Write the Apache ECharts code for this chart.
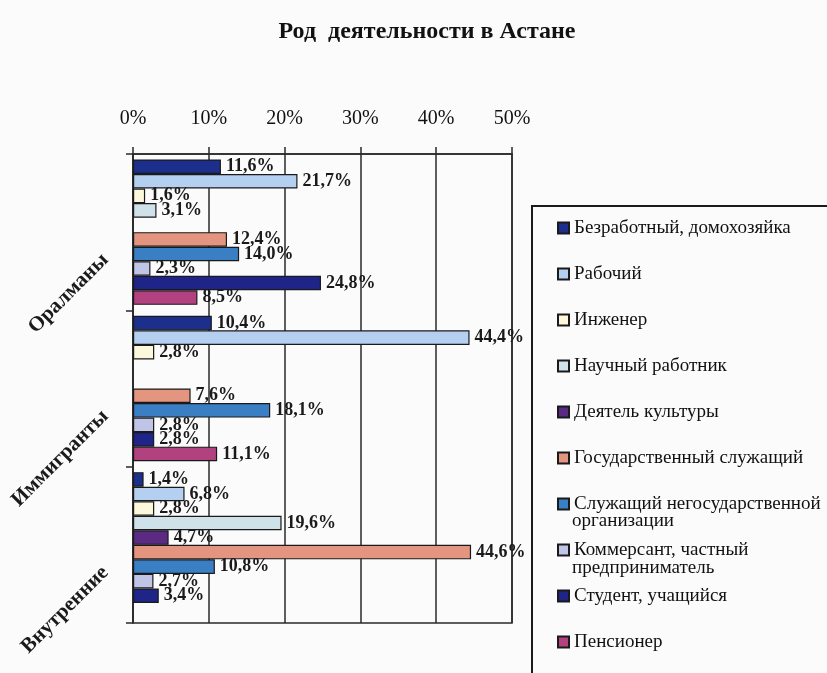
<!DOCTYPE html>
<html>
<head>
<meta charset="utf-8">
<script src="https://cdn.jsdelivr.net/npm/echarts@6/dist/echarts.min.js"></script>
<style>
  html, body { margin: 0; padding: 0; background: #fbfbfb; }
  #main { width: 827px; height: 673px; }
</style>
</head>
<body>
<div id="main"></div>
<script>
const categories = ["Оралманы", "Иммигранты", "Внутренние"];
const seriesNames = [
  "Безработный, домохозяйка",
  "Рабочий",
  "Инженер",
  "Научный работник",
  "Деятель культуры",
  "Государственный служащий",
  "Служащий негосударственной организации",
  "Коммерсант, частный предприниматель",
  "Студент, учащийся",
  "Пенсионер",
];
// values per series: [Оралманы, Иммигранты, Внутренние], 0 = no bar
const unemployed = [11.6, 10.4, 1.4];
const worker = [21.7, 44.4, 6.8];
const engineer = [1.6, 2.8, 2.8];
const scientist = [3.1, 0, 19.6];
const culture = [0, 0, 4.7];
const civilServant = [12.4, 7.6, 44.6];
const privateEmployee = [14.0, 18.1, 10.8];
const businessman = [2.3, 2.8, 2.7];
const student = [24.8, 2.8, 3.4];
const pensioner = [8.5, 11.1, 0];
const xTicks = [0, 10, 20, 30, 40, 50];

const colors = [
  "#1d2f8c", "#b5cff0", "#fdf7dc", "#cfe2ea", "#5b2a82",
  "#e3957f", "#3a7ec4", "#c0c4e6", "#1f2488", "#b1427f",
];
const allData = [
  unemployed, worker, engineer, scientist, culture,
  civilServant, privateEmployee, businessman, student, pensioner,
];

const chartDom = document.getElementById("main");
const myChart = echarts.init(chartDom);
const serif = "Liberation Serif";

const series = seriesNames.map((name, i) => ({
  name: name,
  type: "bar",
  data: allData[i].map((v) => (v === 0 ? "-" : v)),
  barGap: "0%",
  barCategoryGap: "7%",
  itemStyle: {
    color: colors[i],
    borderColor: "#1a1a1a",
    borderWidth: 1.2,
  },
  label: {
    show: true,
    position: "right",
    distance: 5,
    fontFamily: serif,
    fontWeight: "bold",
    fontSize: 18,
    color: "#1a1a1a",
    formatter: (p) => p.value.toFixed(1).replace(".", ",") + "%",
  },
}));

const option = {
  backgroundColor: "#fbfbfb",
  animation: false,
  title: {
    text: "Род  деятельности в Астане",
    left: 422,
    textAlign: "center",
    top: 15,
    textStyle: {
      fontFamily: serif,
      fontWeight: "bold",
      fontSize: 24,
      color: "#111",
    },
  },
  grid: {
    left: 133,
    top: 154,
    width: 379,
    height: 469,
    show: true,
    borderColor: "#2a2a2a",
    borderWidth: 1.5,
  },
  xAxis: {
    type: "value",
    position: "top",
    min: xTicks[0],
    max: xTicks[xTicks.length - 1],
    interval: 10,
    axisLine: { show: true, lineStyle: { color: "#2a2a2a", width: 1.5 } },
    axisTick: { show: true, length: 7, lineStyle: { color: "#2a2a2a", width: 1.5 } },
    splitLine: { show: true, lineStyle: { color: "#2a2a2a", width: 1.5 } },
    axisLabel: {
      margin: 25,
      fontFamily: serif,
      fontSize: 20,
      color: "#111",
      formatter: "{value}%",
    },
  },
  yAxis: {
    type: "category",
    inverse: true,
    data: categories,
    axisLine: { show: true, lineStyle: { color: "#2a2a2a", width: 1.5 } },
    axisTick: { show: true, length: 7, lineStyle: { color: "#2a2a2a", width: 1.5 } },
    axisLabel: {
      rotate: 45,
      margin: 3,
      padding: [50, 35, 0, 0],
      fontFamily: serif,
      fontWeight: "bold",
      fontSize: 21,
      color: "#1a1a1a",
    },
  },
  legend: {
    orient: "vertical",
    left: 552,
    top: 212,
    itemWidth: 11,
    itemHeight: 11,
    itemGap: 24,
    icon: "rect",
    data: seriesNames,
    formatter: (name) => name.replace(" организации", "").replace(" предприниматель", ""),
    textStyle: {
      fontFamily: serif,
      fontSize: 19,
      lineHeight: 22,
      color: "#111",
    },
  },
  graphic: [
    {
      type: "rect",
      shape: { x: 532, y: 206, width: 320, height: 500 },
      style: { fill: "none", stroke: "#1a1a1a", lineWidth: 2 },
    },
    {
      type: "text",
      x: 572,
      y: 521,
      style: {
        text: "организации",
        font: "19px 'Liberation Serif'",
        fill: "#111",
        verticalAlign: "middle",
      },
    },
    {
      type: "text",
      x: 572,
      y: 568,
      style: {
        text: "предприниматель",
        font: "19px 'Liberation Serif'",
        fill: "#111",
        verticalAlign: "middle",
      },
    },
  ],
  series: series,
};

option && myChart.setOption(option);
</script>
</body>
</html>
